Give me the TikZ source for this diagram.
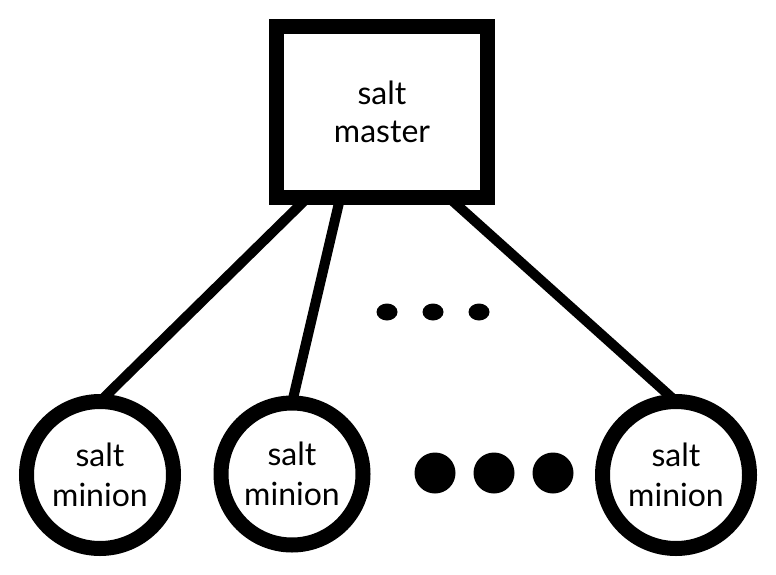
\documentclass[tikz,border=0pt]{standalone}
\usepackage{fontspec}
\setmainfont{Lato}
\begin{document}
\begin{tikzpicture}[x=1pt,y=-1pt,
  masterbox/.style={draw=black,fill=white,line width=15pt,outer sep=0pt,
    minimum width=211.5pt,minimum height=171.5pt,align=center,inner sep=0pt,
    font=\fontsize{32}{38}\selectfont},
  minionnode/.style={circle,draw=black,fill=white,line width=15pt,outer sep=0pt,
    align=center,inner sep=0pt,font=\fontsize{32}{40}\selectfont},
  link/.style={line width=10pt,black}]
\useasboundingbox (0,0) rectangle (776,575);
\node[masterbox] (master) at (382,112) {salt\\master};
\node[minionnode,minimum size=147pt] (m1) at (100,475) {salt\\minion};
\node[minionnode,minimum size=142pt] (m2) at (292,474) {salt\\minion};
\node[minionnode,minimum size=147pt] (m3) at (676,475) {salt\\minion};
\begin{scope}[on background layer/.try]
\end{scope}
\draw[link] (master.229.1) -- (m1.north);
\draw[link] (master.244.9) -- (m2.north);
\draw[link] (master.308.5) -- (m3.north);
\fill (387,312) ellipse [x radius=10.5, y radius=8.5];
\fill (433,312) ellipse [x radius=10.5, y radius=8.5];
\fill (479,312) ellipse [x radius=10.5, y radius=8.5];
\fill (435,473) circle [radius=20.5];
\fill (494,473) circle [radius=20.5];
\fill (553,473) circle [radius=20.5];
\end{tikzpicture}
\end{document}
